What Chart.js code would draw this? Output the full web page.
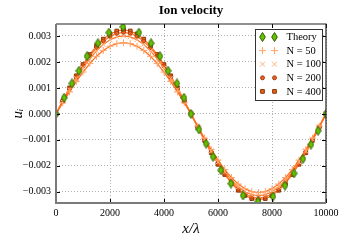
<!DOCTYPE html>
<html>
<head>
<meta charset="utf-8">
<script src="https://cdn.jsdelivr.net/npm/chart.js@4.4.0/dist/chart.umd.min.js"></script>
<style>
html, body { margin: 0; padding: 0; background: #fff; }
canvas { display: block; }
</style>
</head>
<body>
<canvas id="ionChart" width="346" height="243"></canvas>
<script>
const chartTitle = 'Ion velocity';
const seriesLabels = ['Theory', 'N = 50', 'N = 100', 'N = 200', 'N = 400'];
const xTicks = [0, 2000, 4000, 6000, 8000, 10000];
const yTicks = [-0.003, -0.002, -0.001, 0, 0.001, 0.002, 0.003];

// analytic solution, sampled where the diamonds sit
const theoryX = [0, 300, 590, 850, 1150, 1555, 1960, 2480, 3070, 3520, 3850, 4150, 4480, 4740, 5000,
    5296, 5556, 5815, 6111, 6481, 6926, 7481, 8037, 8481, 8815, 9148, 9444, 9704, 10000];
const theoryY = [0, 0.00062, 0.00117, 0.00166, 0.00222, 0.00272, 0.00313, 0.00335, 0.00313, 0.00272, 0.00222, 0.00166, 0.00117, 0.00062, 0,
    -0.00060, -0.00114, -0.00165, -0.00217, -0.00268, -0.00314, -0.00337, -0.00318, -0.00276, -0.00229, -0.00173, -0.00118, -0.00065, 0];

// simulation runs
const simX = [0, 250, 500, 750, 1000, 1250, 1500, 1750, 2000, 2250, 2500, 2750, 3000, 3250, 3500, 3750, 4000, 4250, 4500, 4750, 5000,
    5250, 5500, 5750, 6000, 6250, 6500, 6750, 7000, 7250, 7500, 7750, 8000, 8250, 8500, 8750, 9000, 9250, 9500, 9750, 10000];
const n50 = [0, 0.000429, 0.000847, 0.001244, 0.001611, 0.001937, 0.002217, 0.002441, 0.002606, 0.002706, 0.002740,
    0.002706, 0.002606, 0.002441, 0.002217, 0.001937, 0.001611, 0.001244, 0.000847, 0.000429, 0,
    -0.000474, -0.000936, -0.001376, -0.001781, -0.002143, -0.002451, -0.002700, -0.002882, -0.002993, -0.003030,
    -0.002993, -0.002882, -0.002700, -0.002451, -0.002143, -0.001781, -0.001376, -0.000936, -0.000474, 0];
const n100 = [0, 0.000469, 0.000927, 0.001362, 0.001763, 0.002121, 0.002427, 0.002673, 0.002853, 0.002963, 0.003000,
    0.002963, 0.002853, 0.002673, 0.002427, 0.002121, 0.001763, 0.001362, 0.000927, 0.000469, 0,
    -0.000493, -0.000973, -0.001430, -0.001852, -0.002227, -0.002548, -0.002807, -0.002996, -0.003111, -0.003150,
    -0.003111, -0.002996, -0.002807, -0.002548, -0.002227, -0.001852, -0.001430, -0.000973, -0.000493, 0];
const n200 = [0, 0.000491, 0.000970, 0.001426, 0.001846, 0.002220, 0.002540, 0.002798, 0.002986, 0.003101, 0.003140,
    0.003101, 0.002986, 0.002798, 0.002540, 0.002220, 0.001846, 0.001426, 0.000970, 0.000491, 0,
    -0.000507, -0.001001, -0.001471, -0.001904, -0.002291, -0.002621, -0.002887, -0.003082, -0.003200, -0.003240,
    -0.003200, -0.003082, -0.002887, -0.002621, -0.002291, -0.001904, -0.001471, -0.001001, -0.000507, 0];
const n400 = [0, 0.000505, 0.000998, 0.001466, 0.001899, 0.002284, 0.002613, 0.002878, 0.003072, 0.003190, 0.003230,
    0.003190, 0.003072, 0.002878, 0.002613, 0.002284, 0.001899, 0.001466, 0.000998, 0.000505, 0,
    -0.000516, -0.001020, -0.001498, -0.001940, -0.002333, -0.002670, -0.002940, -0.003139, -0.003259, -0.003300,
    -0.003259, -0.003139, -0.002940, -0.002670, -0.002333, -0.001940, -0.001498, -0.001020, -0.000516, 0];

const serif = '"Liberation Serif", "DejaVu Serif", serif';
const lineColor = '#ff6f1f';

// thin green diamond like matplotlib's 'd'
function makeDiamond() {
    const c = document.createElement('canvas');
    c.width = 7; c.height = 10;
    const g = c.getContext('2d');
    g.beginPath();
    g.moveTo(3.5, 0.5); g.lineTo(6.3, 5); g.lineTo(3.5, 9.5); g.lineTo(0.7, 5);
    g.closePath();
    g.fillStyle = '#62c400';
    g.fill();
    g.strokeStyle = '#2f5c00';
    g.lineWidth = 1;
    g.stroke();
    return c;
}
const diamond = makeDiamond();

function toPoints(xs, ys) {
    return xs.map((x, i) => ({ x: x, y: ys[i] }));
}

const datasets = [{
    label: seriesLabels[0],
    data: toPoints(theoryX, theoryY),
    showLine: false,
    pointStyle: diamond,
    pointRadius: 4
}, {
    label: seriesLabels[1],
    data: toPoints(simX, n50),
    borderColor: lineColor,
    borderWidth: 1.2,
    pointStyle: 'cross',
    pointRadius: 3.5,
    pointBorderWidth: 1,
    pointBorderColor: '#ffa366',
    pointBackgroundColor: '#ffa366'
}, {
    label: seriesLabels[2],
    data: toPoints(simX, n100),
    borderColor: lineColor,
    borderWidth: 1.2,
    pointStyle: 'crossRot',
    pointRadius: 3.5,
    pointBorderWidth: 1,
    pointBorderColor: '#ffb07c',
    pointBackgroundColor: '#ffb07c'
}, {
    label: seriesLabels[3],
    data: toPoints(simX, n200),
    borderColor: lineColor,
    borderWidth: 1.2,
    pointStyle: 'circle',
    pointRadius: 2,
    pointBorderWidth: 1,
    pointBorderColor: '#a84010',
    pointBackgroundColor: '#e8601c'
}, {
    label: seriesLabels[4],
    data: toPoints(simX, n400),
    borderColor: lineColor,
    borderWidth: 1.2,
    pointStyle: 'rect',
    pointRadius: 2.6,
    pointBorderWidth: 1,
    pointBorderColor: '#8a3000',
    pointBackgroundColor: '#f0641a'
}];

// title, frame with inward ticks, two-marker legend
const decorations = {
    id: 'decorations',
    afterDraw(chart) {
        const { ctx, chartArea: a, scales } = chart;
        const sx = scales.x, sy = scales.y;
        ctx.save();

        ctx.strokeStyle = '#000';
        ctx.lineWidth = 1;
        ctx.beginPath();
        xTicks.forEach(v => {
            const px = Math.round(sx.getPixelForValue(v)) + 0.5;
            ctx.moveTo(px, a.top); ctx.lineTo(px, a.top + 4);
            ctx.moveTo(px, a.bottom); ctx.lineTo(px, a.bottom - 4);
        });
        yTicks.forEach(v => {
            const py = Math.round(sy.getPixelForValue(v)) + 0.5;
            ctx.moveTo(a.left, py); ctx.lineTo(a.left + 4, py);
            ctx.moveTo(a.right, py); ctx.lineTo(a.right - 4, py);
        });
        ctx.stroke();

        ctx.beginPath();
        ctx.strokeStyle = '#222';
        ctx.lineWidth = 1.2;
        ctx.moveTo(a.left, a.top); ctx.lineTo(a.right, a.top); ctx.lineTo(a.right, a.bottom);
        ctx.stroke();
        ctx.beginPath();
        ctx.strokeStyle = '#7a7a7a';
        ctx.lineWidth = 2;
        ctx.moveTo(a.left, a.top); ctx.lineTo(a.left, a.bottom); ctx.lineTo(a.right, a.bottom);
        ctx.stroke();

        ctx.fillStyle = '#000';
        ctx.font = 'bold 13px ' + serif;
        ctx.textAlign = 'center';
        ctx.textBaseline = 'alphabetic';
        ctx.fillText(chartTitle, (a.left + a.right) / 2, 14);

        const bx = a.right - 70.5, by = a.top + 5.5;
        ctx.fillStyle = '#fff';
        ctx.fillRect(bx, by, 67, 71);
        ctx.strokeStyle = '#333';
        ctx.lineWidth = 1;
        ctx.strokeRect(bx, by, 67, 71);

        ctx.font = '10.5px ' + serif;
        ctx.textAlign = 'left';
        ctx.textBaseline = 'middle';
        chart.data.datasets.forEach((ds, i) => {
            const ry = by + 7.5 + i * 13.6;
            const opts = {
                pointStyle: ds.pointStyle,
                radius: ds.pointRadius,
                borderWidth: ds.pointBorderWidth || 1,
                rotation: 0
            };
            ctx.fillStyle = ds.pointBackgroundColor || '#000';
            ctx.strokeStyle = ds.pointBorderColor || '#000';
            ctx.lineWidth = opts.borderWidth;
            [bx + 7, bx + 19].forEach(mx => Chart.helpers.drawPoint(ctx, opts, mx, ry));
            ctx.fillStyle = '#000';
            ctx.fillText(ds.label, bx + 31, ry + 0.5);
        });
        ctx.restore();
    }
};

new Chart(document.getElementById('ionChart'), {
    type: 'line',
    data: { datasets: datasets },
    plugins: [decorations],
    options: {
        responsive: false,
        animation: false,
        devicePixelRatio: 1,
        layout: { padding: { top: 24, right: 20, left: 0, bottom: 0 } },
        plugins: {
            legend: { display: false },
            title: { display: false },
            tooltip: { enabled: false }
        },
        elements: { line: { tension: 0 } },
        scales: {
            x: {
                type: 'linear',
                min: 0,
                max: 10000,
                afterFit: s => { s.height = 40; },
                afterBuildTicks: s => { s.ticks = xTicks.map(v => ({ value: v })); },
                grid: { color: '#b0b0b0', lineWidth: 1, drawTicks: false },
                border: { display: false, dash: [1, 2] },
                ticks: {
                    padding: 4,
                    color: '#000',
                    maxRotation: 0,
                    font: { family: serif, size: 10 },
                    callback: v => String(v)
                },
                title: {
                    display: true,
                    text: 'x/λ',
                    color: '#000',
                    font: { family: serif, size: 15, style: 'italic' },
                    padding: { top: 2, bottom: 5 }
                }
            },
            y: {
                min: -0.00343,
                max: 0.00346,
                afterFit: s => { s.width = 56; },
                afterBuildTicks: s => { s.ticks = yTicks.map(v => ({ value: v })); },
                grid: { color: '#b0b0b0', lineWidth: 1, drawTicks: false },
                border: { display: false, dash: [1, 2] },
                ticks: {
                    padding: 5,
                    color: '#000',
                    font: { family: serif, size: 10 },
                    callback: v => v.toFixed(3).replace('-', '\u2212')
                },
                title: {
                    display: true,
                    text: 'uᵢ',
                    color: '#000',
                    font: { family: serif, size: 15, style: 'italic' },
                    padding: { top: 9, bottom: 0 }
                }
            }
        }
    }
});
</script>
</body>
</html>
